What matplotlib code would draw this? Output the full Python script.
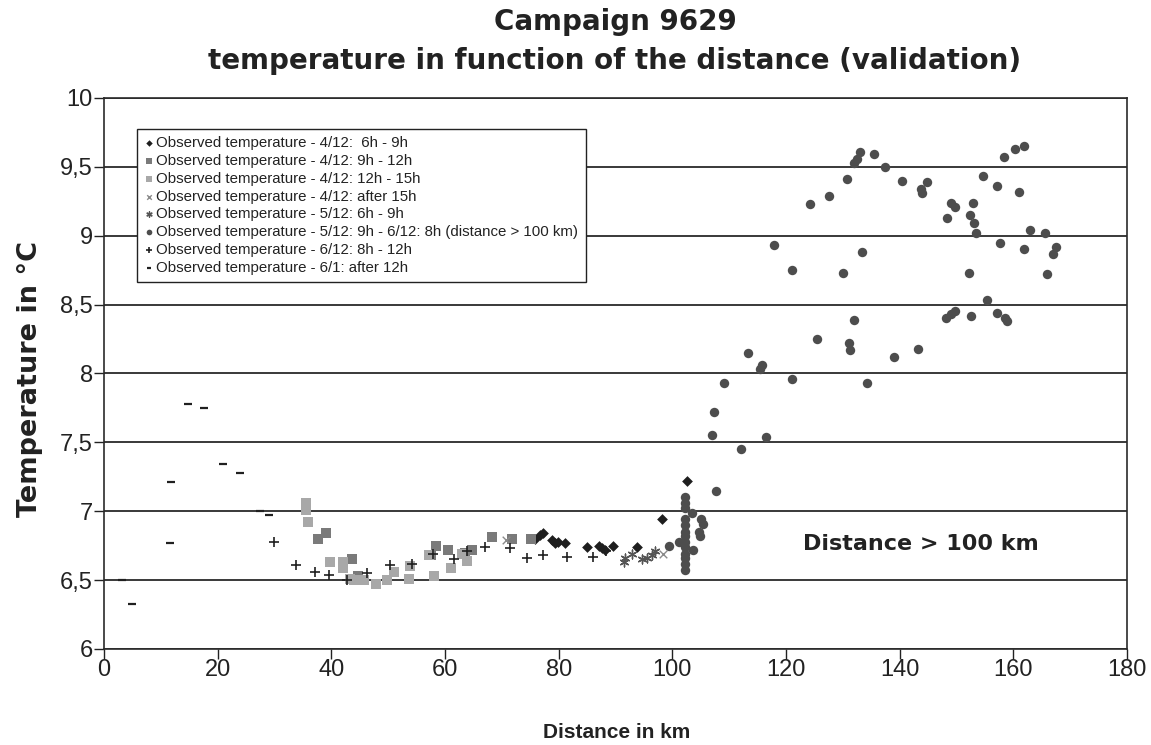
import matplotlib
matplotlib.use("Agg")
import matplotlib.pyplot as plt

plt.rcParams["font.family"] = ["Liberation Sans", "DejaVu Sans"]

# ---- data: distance (km) and observed temperature (°C) per period ----
d_0412_06_09 = [75.8, 76.7, 77.3, 78.8, 79.4, 79.9, 81.1, 84.9, 87.0, 87.6,
                88.2, 89.6, 93.8, 98.2, 102.5]
t_0412_06_09 = [6.80, 6.83, 6.84, 6.79, 6.77, 6.78, 6.77, 6.74, 6.75, 6.73,
                6.72, 6.75, 6.74, 6.94, 7.22]

d_0412_09_12 = [37.6, 39.0, 43.7, 44.7, 57.6, 58.4, 60.5, 63.5, 64.7, 68.3,
                71.7, 75.2]
t_0412_09_12 = [6.80, 6.84, 6.65, 6.53, 6.68, 6.75, 6.72, 6.70, 6.72, 6.81,
                6.80, 6.80]

d_0412_12_15 = [35.5, 35.5, 35.8, 39.7, 42.1, 42.1, 43.3, 43.9, 45.8, 47.9,
                49.7, 51.0, 53.7, 53.8, 57.1, 58.1, 61.0, 62.9, 63.8]
t_0412_12_15 = [7.06, 7.01, 6.92, 6.63, 6.63, 6.59, 6.51, 6.50, 6.50, 6.47,
                6.50, 6.56, 6.51, 6.60, 6.68, 6.53, 6.59, 6.69, 6.64]

d_0412_after15 = [70.8, 98.3]
t_0412_after15 = [6.79, 6.69]

d_0512_06_09 = [91.4, 91.7, 92.9, 94.6, 95.5, 96.4, 97.0]
t_0512_06_09 = [6.63, 6.66, 6.69, 6.65, 6.66, 6.68, 6.71]

d_0512_0612 = [99.4, 101.1, 102.3, 102.3, 102.3, 102.3, 102.3, 102.3, 102.3,
               102.3, 102.3, 102.3, 102.3, 102.3, 102.3, 103.4, 103.7, 104.6,
               104.8, 105.1, 105.4, 107.0, 107.3, 107.6, 109.0, 112.0, 113.3,
               115.5, 115.7, 116.5, 117.8, 121.0, 121.0, 124.2, 125.5, 127.6,
               130.0, 130.8, 131.0, 131.3, 132.0, 131.9, 132.4, 133.0, 133.3,
               134.3, 135.4, 137.4, 139.0, 140.4, 143.3, 143.7, 143.9, 144.8,
               148.1, 149.1, 149.7, 148.4, 149.1, 149.7, 152.2, 152.3, 153.0,
               153.4, 152.6, 152.9, 154.6, 155.3, 157.2, 157.1, 158.5, 158.8,
               157.7, 158.4, 160.3, 161.8, 160.9, 161.8, 162.9, 165.6, 165.9,
               166.9, 167.5]
t_0512_0612 = [6.75, 6.78, 7.10, 7.06, 7.02, 6.94, 6.90, 6.85, 6.82, 6.78,
               6.74, 6.69, 6.66, 6.62, 6.57, 6.99, 6.72, 6.85, 6.82, 6.94,
               6.91, 7.55, 7.72, 7.15, 7.93, 7.45, 8.15, 8.03, 8.06, 7.54,
               8.93, 8.75, 7.96, 9.23, 8.25, 9.29, 8.73, 9.41, 8.22, 8.17,
               8.39, 9.53, 9.56, 9.61, 8.88, 7.93, 9.59, 9.50, 8.12, 9.40,
               8.18, 9.34, 9.31, 9.39, 8.40, 8.43, 8.45, 9.13, 9.24, 9.21,
               8.73, 9.15, 9.09, 9.02, 8.42, 9.24, 9.43, 8.53, 9.36, 8.44,
               8.40, 8.38, 8.95, 9.57, 9.63, 9.65, 9.32, 8.90, 9.04, 9.02,
               8.72, 8.87, 8.92]

d_0612_08_12 = [29.9, 33.8, 37.1, 39.6, 42.7, 46.2, 50.3, 54.1, 57.9, 61.5,
                63.8, 67.0, 71.4, 74.4, 77.3, 81.5, 86.0, 88.3]
t_0612_08_12 = [6.78, 6.61, 6.56, 6.54, 6.50, 6.55, 6.61, 6.62, 6.69, 6.65,
                6.71, 6.74, 6.73, 6.66, 6.68, 6.67, 6.67, 6.71]

d_0601_after12 = [3.1, 5.0, 11.6, 11.7, 14.8, 17.6, 21.0, 23.9, 27.4, 29.1]
t_0601_after12 = [6.50, 6.33, 6.77, 7.21, 7.78, 7.75, 7.34, 7.28, 7.00, 6.97]

labels = [
    "Observed temperature - 4/12:  6h - 9h",
    "Observed temperature - 4/12: 9h - 12h",
    "Observed temperature - 4/12: 12h - 15h",
    "Observed temperature - 4/12: after 15h",
    "Observed temperature - 5/12: 6h - 9h",
    "Observed temperature - 5/12: 9h - 6/12: 8h (distance > 100 km)",
    "Observed temperature - 6/12: 8h - 12h",
    "Observed temperature - 6/1: after 12h",
]

x_ticks = [0, 20, 40, 60, 80, 100, 120, 140, 160, 180]
y_ticks = [6, 6.5, 7, 7.5, 8, 8.5, 9, 9.5, 10]

INK = "#222222"
BOLD_WIDE = ["DejaVu Sans"]

fig = plt.figure(figsize=(11.51, 7.45), dpi=100)
ax = fig.add_axes([0.0904, 0.1289, 0.8888, 0.7396])

ax.set_xlim(0, 180)
ax.set_ylim(6, 10)

for y in y_ticks:
    ax.axhline(y, color="#2a2a2a", lw=1.3, zorder=1)

ax.scatter(d_0412_06_09, t_0412_06_09, marker="D", s=30, color="#1e1e1e",
           label=labels[0], zorder=3, linewidths=0)
ax.scatter(d_0412_09_12, t_0412_09_12, marker="s", s=42, color="#7a7a7a",
           label=labels[1], zorder=3, linewidths=0)
ax.scatter(d_0412_12_15, t_0412_12_15, marker="s", s=42, color="#a8a8a8",
           label=labels[2], zorder=3, linewidths=0)
ax.scatter(d_0412_after15, t_0412_after15, marker="x", s=30, color="#8a8a8a",
           label=labels[3], zorder=3, linewidths=1.0)
ax.scatter(d_0512_06_09, t_0512_06_09, marker=(6, 2, 0), s=40,
           color="#555555", label=labels[4], zorder=3, linewidths=1.0)
ax.scatter(d_0512_0612, t_0512_0612, marker="o", s=46, color="#4d4d4d",
           label=labels[5], zorder=3, linewidths=0)
ax.scatter(d_0612_08_12, t_0612_08_12, marker="+", s=60, color="#202020",
           label=labels[6], zorder=3, linewidths=1.2)
ax.scatter(d_0601_after12, t_0601_after12, marker="_", s=30, color="#202020",
           label=labels[7], zorder=3, linewidths=1.6)

ax.set_xticks(x_ticks)
ax.set_xticklabels([str(v) for v in x_ticks])
ax.set_yticks(y_ticks)
ax.set_yticklabels([("%g" % v).replace(".", ",") for v in y_ticks])
ax.tick_params(axis="both", labelsize=17, colors=INK, length=7,
               width=1.0, direction="out")
ax.tick_params(axis="x", pad=0)
ax.tick_params(axis="y", pad=1)

for side in ["left", "bottom", "right", "top"]:
    ax.spines[side].set_color("#2a2a2a")
    ax.spines[side].set_linewidth(1.2)

fig.text(617 / 1151, 1 - 733 / 745, "Distance in km", ha="center",
         va="center", fontsize=15, fontweight="bold", color=INK)
fig.text(30 / 1151, 1 - 379 / 745, "Temperature in °C", ha="center",
         va="center", rotation=90, fontsize=19.5, fontweight="bold",
         color=INK, family=BOLD_WIDE)

fig.text(615 / 1151, 1 - 22 / 745, "Campaign 9629", ha="center",
         va="center", fontsize=20, fontweight="bold", color=INK,
         family=BOLD_WIDE)
fig.text(615 / 1151, 1 - 61 / 745,
         "temperature in function of the distance (validation)",
         ha="center", va="center", fontsize=20, fontweight="bold",
         color=INK, family=BOLD_WIDE)

ax.text(123.0, 6.76, "Distance > 100 km", ha="left", va="center",
        fontsize=16, fontweight="bold", color=INK, family=BOLD_WIDE)

leg = ax.legend(loc="upper left", bbox_to_anchor=(0.032, 0.944),
                borderaxespad=0, fontsize=10.8, frameon=True, fancybox=False,
                edgecolor=INK, framealpha=1, handlelength=0.6,
                handletextpad=0.2, labelspacing=0.25, borderpad=0.5,
                markerscale=0.6, scatterpoints=1)
leg.get_frame().set_linewidth(1.0)
for txt in leg.get_texts():
    txt.set_color(INK)

fig.savefig("out.png", dpi=100, facecolor="white")
